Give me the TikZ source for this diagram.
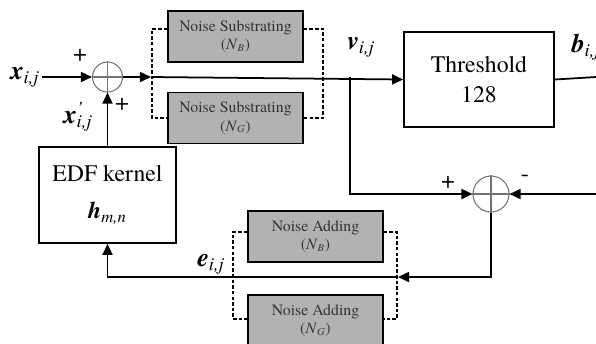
\documentclass[tikz,border=0pt]{standalone}
\usepackage{fontspec}
\setmainfont{texgyretermes}[Extension=.otf,UprightFont=*-regular,BoldFont=*-bold,ItalicFont=*-italic,BoldItalicFont=*-bolditalic]
\usetikzlibrary{arrows.meta,calc}

\newcommand{\sym}[2]{{\bfseries\itshape #1}\textsubscript{\itshape #2}}
\newcommand{\symp}[2]{{\bfseries\itshape #1}\rlap{\textsuperscript{\itshape '}}\textsubscript{\itshape #2}}

\begin{document}
\begin{tikzpicture}[x=0.02cm,y=-0.02cm,line width=1pt,
  noisebox/.style={draw,fill=black!30,text=black!80,minimum width=2.7cm,minimum height=1.02cm,align=center,inner sep=1pt,font=\fontsize{9}{10.5}\selectfont},
  blockbox/.style={draw,fill=white,align=center,font=\fontsize{13.5}{17}\selectfont},
  sumnode/.style={draw=black!55,circle,line width=0.6pt,inner sep=0pt},
  lbl/.style={inner sep=1pt,font=\fontsize{15}{15}\selectfont},
  pm/.style={inner sep=0pt,font=\fontsize{14}{14}\selectfont},
  arr/.style={-{Triangle[length=6.3pt,width=5.7pt]}},
  dsh/.style={dash pattern=on 2pt off 1.2pt,line width=0.8pt}]

\useasboundingbox (0,0) rectangle (596,343);

% blocks
\node (thr) at (479,79.5)[blockbox,minimum width=3cm,minimum height=1.9cm]{Threshold\\128};
\node (edf) at (107.5,195)[blockbox,minimum width=2.74cm,minimum height=1.92cm]{EDF kernel\\[4pt]\sym{h}{m,n}};

\node (nsb) at (235.5,36.5)[noisebox]{Noise Substrating\\(\textit{N}\textsubscript{\textit{B}})};
\node (nsg) at (235.5,118)[noisebox]{Noise Substrating\\(\textit{N}\textsubscript{\textit{G}})};
\node (nab) at (315.5,236.5)[noisebox]{Noise Adding\\(\textit{N}\textsubscript{\textit{B}})};
\node (nag) at (315.5,320.5)[noisebox]{Noise Adding\\(\textit{N}\textsubscript{\textit{G}})};

% summing points
\node (s1) at (107.5,77)[sumnode,minimum size=0.6cm]{};
\node (s2) at (491,194)[sumnode,minimum size=0.72cm]{};
\foreach \s in {s1,s2}
{
\draw[black!55,line width=0.6pt] (\s.north) -- (\s.south) (\s.west) -- (\s.east);
}

% labels
\node (xin) at (25,77)[lbl]{\sym{x}{i,j}};
\node (xfb) at (78,117)[lbl]{\symp{x}{i,j}};
\node (vij) at (361,47)[lbl]{\sym{v}{i,j}};
\node (bij) at (586,47)[lbl]{\sym{b}{i,j}};
\node (eij) at (211,264)[lbl]{\sym{e}{i,j}};
\node (p1) at (80,55)[pm]{+};
\node (p2) at (122,104)[pm]{+};
\node (p3) at (448,182)[pm]{+};
\node (m1) at (525,178)[pm]{-};

\coordinate (split) at (151,77);
\coordinate (tap) at (350,77);
\coordinate (bout) at (596,77);
\coordinate (ein) at (596,194);
\coordinate (eback) at (398,277);

% signal path
\draw[arr] (xin.east) -- (s1.west);
\draw[arr] (s1.east) -- (split);
\draw[arr] (split) -- (thr.west);
\draw (thr.east) -- (bout);
\draw[arr] (tap) |- (s2.west);
\draw[arr] (ein) -- (s2.east);
\draw[arr] (s2.south) |- (eback);
\draw[arr] (eback) -| (edf.south);
\draw[arr] (edf.north) -- (s1.south);

% dashed noise links
\coordinate (dl1) at (152,29);
\coordinate (dl2) at (152,118);
\coordinate (dr1) at (323,29);
\coordinate (dr2) at (323,118);
\coordinate (el1) at (233,232);
\coordinate (el2) at (233,319);
\coordinate (er1) at (397,232);
\coordinate (er2) at (397,319);
\draw[dsh] (nsb.west |- dl1) -- (dl1) -- (dl2) -- (nsg.west |- dl2);
\draw[dsh] (nsb.east |- dr1) -- (dr1) -- (dr2) -- (nsg.east |- dr2);
\draw[dsh] (nab.west |- el1) -- (el1) -- (el2) -- (nag.west |- el2);
\draw[dsh] (nab.east |- er1) -- (er1) -- (er2) -- (nag.east |- er2);

\end{tikzpicture}
\end{document}
